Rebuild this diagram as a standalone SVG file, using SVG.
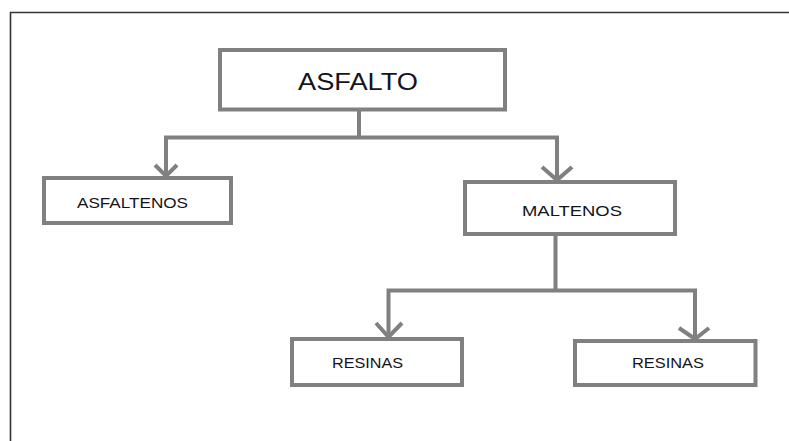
<svg xmlns="http://www.w3.org/2000/svg" width="789" height="441" viewBox="0 0 789 441">
<style>
.box{fill:#fff;stroke:#808080;stroke-width:4}
.lbl{font-family:"Liberation Sans",Arial,sans-serif;fill:#141420}
.con{fill:none;stroke:#808080;stroke-width:4}
.frame{fill:none;stroke:#333;stroke-width:1.6}
</style>
<rect x="0" y="0" width="789" height="441" fill="#fff"/>
<path class="frame" d="M10.5 441 V12.5 H789"/>
<g id="connectors">
<path class="con" d="M359 111 V137.5 M164 137.5 H559 M166 137.5 V176 M557 137.5 V180"/>
<path class="con" d="M155 165 L166 176 L177 165"/>
<path class="con" d="M542 167 L557 180 L572 167"/>
<path class="con" d="M555.5 236 V290.5 M386.5 290.5 H697 M388.5 290.5 V337 M695 290.5 V339"/>
<path class="con" d="M376 323 L388.5 337 L402 323"/>
<path class="con" d="M679 328 L695 339 L709 328"/>
</g>
<g id="asfalto">
<rect class="box" x="220" y="50" width="285" height="59.5"/>
<text class="lbl" x="298" y="90" font-size="24" textLength="120" lengthAdjust="spacingAndGlyphs">ASFALTO</text>
</g>
<g id="asfaltenos">
<rect class="box" x="44" y="178" width="187" height="45"/>
<text class="lbl" x="77" y="208" font-size="15" textLength="111" lengthAdjust="spacingAndGlyphs">ASFALTENOS</text>
</g>
<g id="maltenos">
<rect class="box" x="465" y="182" width="210" height="52"/>
<text class="lbl" x="522" y="215.5" font-size="15.5" textLength="100" lengthAdjust="spacingAndGlyphs">MALTENOS</text>
</g>
<g id="resinas1">
<rect class="box" x="292" y="339" width="170" height="46"/>
<text class="lbl" x="332" y="367.5" font-size="15" textLength="71" lengthAdjust="spacingAndGlyphs">RESINAS</text>
</g>
<g id="resinas2">
<rect class="box" x="575" y="341" width="180.5" height="44"/>
<text class="lbl" x="632" y="368" font-size="15" textLength="72" lengthAdjust="spacingAndGlyphs">RESINAS</text>
</g>
</svg>
